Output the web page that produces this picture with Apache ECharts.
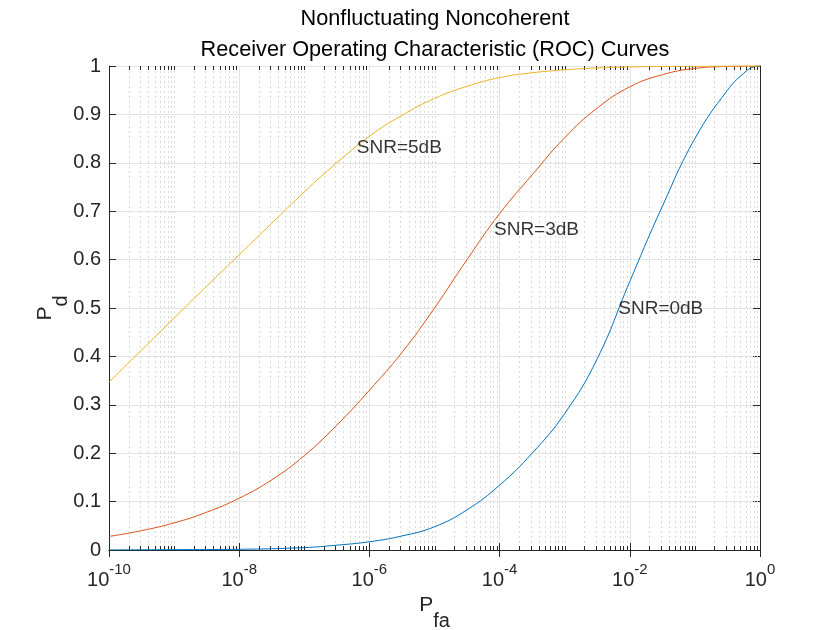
<!DOCTYPE html>
<html>
<head>
<meta charset="utf-8">
<script src="https://cdn.jsdelivr.net/npm/echarts@6/dist/echarts.min.js"></script>
<style>html,body{margin:0;padding:0;background:#fff}#c{width:840px;height:630px}</style>
</head>
<body>
<div id="c"></div>
<script>
// ---- data ----
const pfaSnr0 = [1e-10, 1e-9, 1e-8, 1e-7, 3.16e-7, 1e-6, 3.16e-6, 1e-5, 3.16e-5, 1e-4,
                 3.16e-4, 1e-3, 3.16e-3, 1e-2, 3.16e-2, 1e-1, 3.16e-1, 5.62e-1, 7.94e-1, 1];
const pdSnr0  = [0.0002, 0.0007, 0.0015, 0.005, 0.01, 0.017, 0.029, 0.048, 0.083, 0.134,
                 0.20, 0.282, 0.395, 0.555, 0.71, 0.85, 0.95, 0.985, 0.998, 1.0];
const pfaSnr3 = [1e-10, 3.16e-10, 1e-9, 3.16e-9, 1e-8, 3.16e-8, 1e-7, 3.16e-7, 1e-6, 3.16e-6,
                 1e-5, 3.16e-5, 1e-4, 3.16e-4, 1e-3, 3.16e-3, 1e-2, 3.16e-2, 1e-1, 3.16e-1, 1];
const pdSnr3  = [0.028, 0.04, 0.056, 0.078, 0.107, 0.145, 0.195, 0.258, 0.33, 0.408,
                 0.50, 0.60, 0.695, 0.775, 0.852, 0.913, 0.957, 0.982, 0.995, 0.999, 1.0];
const pfaSnr5 = [1e-10, 3.16e-10, 1e-9, 3.16e-9, 1e-8, 3.16e-8, 1e-7, 3.16e-7, 1e-6, 3.16e-6,
                 1e-5, 3.16e-5, 1e-4, 3.16e-4, 1e-3, 3.16e-3, 1e-2, 3.16e-2, 1e-1, 3.16e-1, 1];
const pdSnr5  = [0.347, 0.413, 0.479, 0.545, 0.61, 0.675, 0.74, 0.80, 0.855, 0.898,
                 0.933, 0.958, 0.976, 0.986, 0.992, 0.996, 0.998, 0.999, 0.9996, 0.9999, 1.0];
const seriesNames = ['SNR=0dB', 'SNR=3dB', 'SNR=5dB'];
const annotTexts = ['SNR=0dB', 'SNR=3dB', 'SNR=5dB'];
const annotX = [6.65e-3, 8.2e-5, 6.4e-7];
const annotY = [0.498, 0.662, 0.832];
const titleLines = ['Nonfluctuating Noncoherent', 'Receiver Operating Characteristic (ROC) Curves'];

// minor log tick positions (2..9 per decade, plus odd decades which carry no label)
const minorX = [];
for (let d = -10; d < 0; d++) {
  if (d % 2 !== 0) minorX.push(Math.pow(10, d));
  for (let k = 2; k <= 9; k++) minorX.push(k * Math.pow(10, d));
}

const FONT = '"Liberation Sans", Arial, Helvetica, sans-serif';
const AX = '#262626';
const colors = ['#0072BD', '#D95319', '#EDB120'];

const pairs = (xs, ys) => xs.map((x, i) => [x, ys[i]]);

const chart = echarts.init(document.getElementById('c'), null, {renderer: 'canvas'});
const axisCommonX = {
  type: 'log', logBase: 10, min: 1e-10, max: 1, interval: 2, splitNumber: 5,
  axisLine: {show: true, lineStyle: {color: AX, width: 1}},
  axisTick: {show: true, inside: true, length: 7, lineStyle: {color: AX}},
  minorTick: {show: false}
};
const subRich = {
  p: {fontFamily: FONT, fontSize: 21, color: AX, lineHeight: 24, padding: [0, 0, 16, 0]},
  s: {fontFamily: FONT, fontSize: 20, color: AX, lineHeight: 24, padding: [16, 0, 0, 0]}
};
const lineCommon = {type: 'line', showSymbol: false, smooth: 0.45, z: 3};
const option = {
  animation: false,
  backgroundColor: '#fff',
  title: {
    text: titleLines.join('\n'),
    left: 430, textAlign: 'center', top: -1,
    textStyle: {fontFamily: FONT, fontSize: 21.7, fontWeight: 'normal', color: '#000', lineHeight: 31}
  },
  grid: {left: 109, right: 80, top: 66, bottom: 80, containLabel: false, outerBoundsMode: 'none'},
  xAxis: [
    Object.assign({}, axisCommonX, {
      position: 'bottom',
      axisLabel: {
        margin: 16,
        formatter: v => '{b|10}{s|' + Math.round(Math.log10(v)) + '}',
        rich: {
          b: {fontFamily: FONT, fontSize: 20, color: AX, lineHeight: 20, padding: [8, 0, 0, 0]},
          s: {fontFamily: FONT, fontSize: 15, color: AX, lineHeight: 16, padding: [0, 0, 12, 0]}
        }
      },
      splitLine: {show: true, lineStyle: {color: '#e3e3e3', width: 1}},
      name: '{p|P}{s|fa}', nameLocation: 'middle', nameGap: 50,
      nameTextStyle: {rich: subRich}
    }),
    Object.assign({}, axisCommonX, {
      position: 'top',
      axisLabel: {show: false},
      splitLine: {show: false}
    })
  ],
  yAxis: [
    {
      type: 'value', min: 0, max: 1, interval: 0.1, position: 'left',
      axisLine: {show: true, lineStyle: {color: AX}},
      axisTick: {show: true, inside: true, length: 7, lineStyle: {color: AX}},
      axisLabel: {margin: 8, fontFamily: FONT, fontSize: 20, color: AX},
      splitLine: {show: true, lineStyle: {color: '#e3e3e3', width: 1}},
      name: '{p|P}{s|d}', nameLocation: 'middle', nameRotate: 90, nameGap: 44,
      nameMoveOverlap: false,
      nameTextStyle: {rich: subRich}
    },
    {
      type: 'value', min: 0, max: 1, interval: 0.1, position: 'right',
      axisLine: {show: true, lineStyle: {color: AX}},
      axisTick: {show: true, inside: true, length: 7, lineStyle: {color: AX}},
      axisLabel: {show: false},
      splitLine: {show: false}
    }
  ],
  series: [
    {
      type: 'custom', xAxisIndex: 0, yAxisIndex: 0, silent: true, z: 1,
      data: minorX.map(v => [v]),
      encode: {x: 0},
      renderItem: (params, api) => {
        const cs = params.coordSys;
        const px = Math.round(api.coord([api.value(0), 0])[0]) + 0.5;
        const top = cs.y, bot = cs.y + cs.height;
        return {
          type: 'group',
          children: [
            {type: 'line', shape: {x1: px, y1: top, x2: px, y2: bot},
             style: {stroke: '#dadada', lineWidth: 1, lineDash: [2, 3]}},
            {type: 'line', shape: {x1: px, y1: top, x2: px, y2: top + 4},
             style: {stroke: AX, lineWidth: 1}},
            {type: 'line', shape: {x1: px, y1: bot, x2: px, y2: bot - 4},
             style: {stroke: AX, lineWidth: 1}}
          ]
        };
      }
    },
    Object.assign({}, lineCommon, {name: seriesNames[0], data: pairs(pfaSnr0, pdSnr0),
      lineStyle: {color: colors[0], width: 1}, itemStyle: {color: colors[0]}}),
    Object.assign({}, lineCommon, {name: seriesNames[1], data: pairs(pfaSnr3, pdSnr3),
      lineStyle: {color: colors[1], width: 1}, itemStyle: {color: colors[1]}}),
    Object.assign({}, lineCommon, {name: seriesNames[2], data: pairs(pfaSnr5, pdSnr5),
      lineStyle: {color: colors[2], width: 1}, itemStyle: {color: colors[2]}}),
    {
      type: 'scatter', symbolSize: 0, silent: true, z: 4,
      data: annotTexts.map((t, i) => ({name: t, value: [annotX[i], annotY[i]]})),
      label: {show: true, position: 'right', distance: 0, formatter: p => p.name,
              fontFamily: FONT, fontSize: 19, color: '#000', align: 'left', verticalAlign: 'middle'}
    }
  ]
};
chart.setOption(option);
</script>
</body>
</html>
